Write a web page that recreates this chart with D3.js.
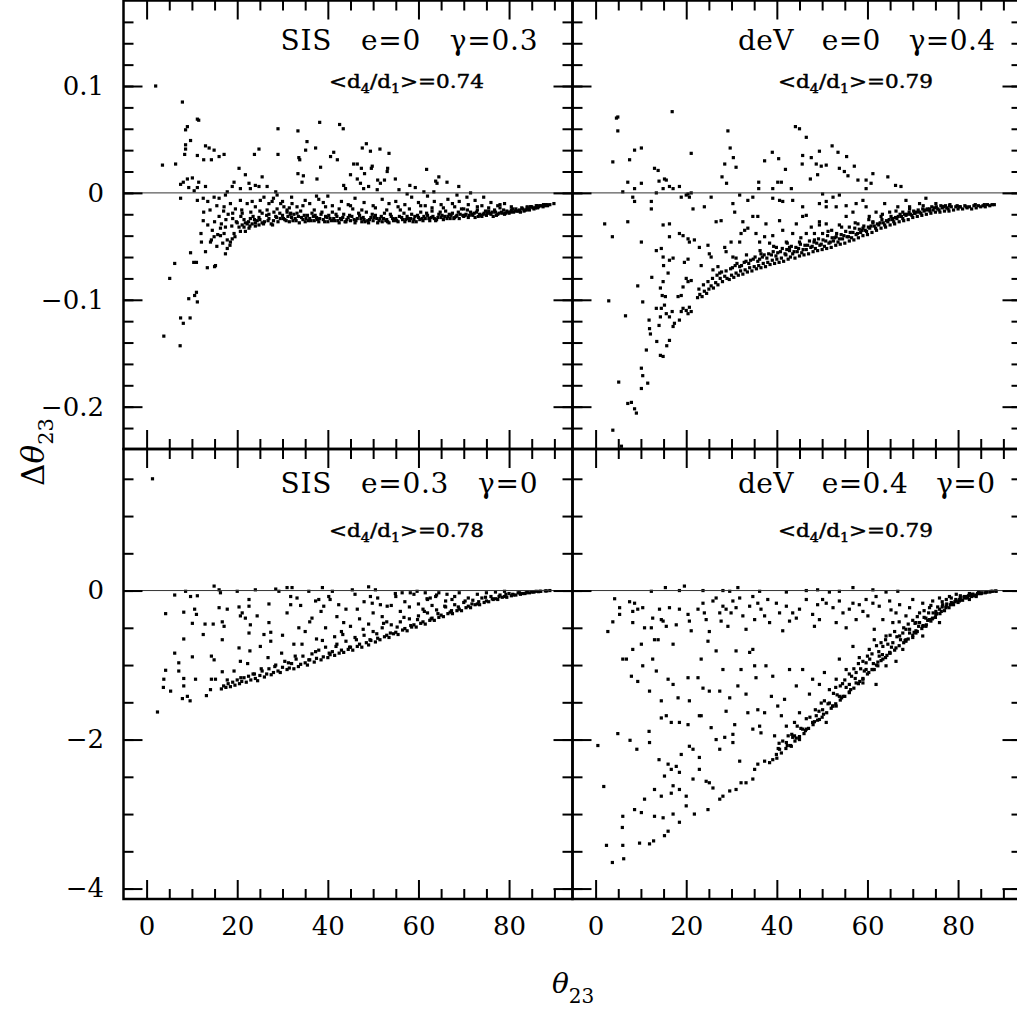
<!DOCTYPE html>
<html>
<head>
<meta charset="utf-8">
<script src="https://cdn.jsdelivr.net/npm/d3@7"></script>
<style>
body { margin: 0; background: #fff; }
</style>
</head>
<body>
<svg id="chart" width="1017" height="1010"></svg>
<script>
"use strict"

// SIS, e=0, gamma=0.3  [theta23, delta theta23]
const sisShearPoints = [
[2.0,0.100],[7.9,0.085],[8.6,0.059],[9.0,0.062],[11.2,0.069],[11.5,0.068],[9.7,0.049],[8.6,0.045],[8.6,0.041],[8.4,0.036],[3.5,0.026],[6.4,0.027],[11.2,0.035],[12.6,0.031],[14.3,0.031],[13.0,0.044],[13.8,0.042],[14.9,0.040],[16.0,0.034],[17.1,0.036],
[29.0,0.060],[33.4,0.058],[38.2,0.066],[42.6,0.064],[43.4,0.060],[29.0,0.036],[23.8,0.036],[24.8,0.041],[35.4,0.048],[35.1,0.040],[37.3,0.042],[33.6,0.033],[33.8,0.031],[38.4,0.024],[40.6,0.034],[42.1,0.031],[41.3,0.038],[33.4,0.018],[34.6,0.016],[34.3,0.010],[37.6,0.013],
[47.6,0.042],[48.5,0.046],[49.4,0.039],[51.5,0.041],[53.5,0.037],[45.7,0.027],[46.5,0.027],[47.4,0.023],[49.8,0.025],[49.6,0.023],[53.2,0.023],[53.1,0.020],[61.8,0.022],[64.5,0.015],[63.8,0.011],[66.3,0.010],[68.9,0.006],[64.1,0.009],
[45.0,0.017],[46.5,0.013],[48.1,0.018],[51.0,0.012],[52.5,0.012],[54.9,0.013],[51.6,0.009],[43.5,0.007],[43.9,0.004],[47.2,0.009],[47.9,0.004],[49.0,0.006],[50.9,0.003],[55.7,0.003],[58.1,0.007],[59.3,0.005],[57.5,-0.001],[61.2,0.001],[63.4,0.001],[71.5,0.000],[70.7,-0.004],[68.5,-0.002],[74.4,-0.004],[89.9,-0.010],[86.2,-0.012],[87.6,-0.011],[88.4,-0.011],[84.0,-0.013],[84.7,-0.013],
[7.5,-0.005],[11.2,-0.007],[8.1,0.010],[9.0,0.013],[10.1,0.014],[9.3,0.005],[11.2,0.005],[7.5,0.008],[12.6,-0.018],[12.5,-0.026],[12.1,-0.046],[14.3,-0.044],[14.1,-0.046],[14.9,-0.041],[9.7,-0.056],[10.4,-0.065],[11.0,-0.065],[6.2,-0.066],[13.4,-0.070],[15.0,-0.069],[15.2,-0.068],[5.1,-0.080],[9.3,-0.099],[10.6,-0.096],[11.0,-0.093],[11.2,-0.102],[7.5,-0.117],[8.1,-0.122],[9.6,-0.117],[3.8,-0.134],[7.4,-0.143],
[14.5,-0.035],[16.3,-0.033],[17.4,-0.032],[15.7,-0.039],[16.3,-0.040],[17.1,-0.038],[17.8,-0.044],[18.5,-0.046],[18.4,-0.049],[17.8,-0.052],[17.4,-0.057],[18.9,-0.043],[19.3,-0.038],[20.4,-0.032],[21.1,-0.030],[20.7,-0.036],[21.5,-0.032],[22.2,-0.029],[22.6,-0.033],[21.8,-0.036],[23.3,-0.029],[24.0,-0.031],[24.8,-0.030],[25.5,-0.028],[24.4,-0.026],[22.9,-0.024],
[14.9,-0.004],[16.0,-0.005],[17.4,-0.002],[17.8,0.001],[18.9,0.006],[19.3,0.010],[20.4,0.023],[20.7,0.004],[21.8,0.017],[22.6,0.009],[22.9,0.004],[24.0,0.007],[24.8,0.006],[25.5,0.015],[26.6,0.006],[28.5,0.001],[28.8,-0.002],[17.1,-0.013],[18.5,-0.010],[19.6,-0.015],[20.7,-0.007],[21.1,-0.019],[22.2,-0.010],[23.3,-0.008],[24.0,-0.013],[25.1,-0.007],[25.9,-0.004],[27.0,-0.010],[27.7,-0.008],[26.6,-0.016],[28.1,-0.018],[28.8,-0.015],[29.6,-0.010],[30.3,-0.013],[31.0,-0.016],[32.1,-0.010],[31.8,-0.019],[33.2,-0.013],
[24.0,-0.028],[25.0,-0.025],[26.0,-0.027],[27.0,-0.024],[27.5,-0.029],[28.0,-0.026],[28.5,-0.022],[29.0,-0.027],[29.5,-0.024],[26.5,-0.021],[25.5,-0.019],[23.5,-0.022],[22.5,-0.027],[21.5,-0.025],[20.0,-0.028],[19.0,-0.024],[18.0,-0.020],[17.0,-0.017],[16.0,-0.022],[15.5,-0.012],[14.0,-0.016],[13.5,-0.008],[12.5,-0.005],[13.0,0.006],[11.5,0.010],[10.5,0.002],
[15.0,-0.027],[16.5,-0.029],[17.5,-0.025],[18.8,-0.031],[19.8,-0.027],[20.8,-0.022],[21.8,-0.028],[22.8,-0.031],[23.8,-0.025],[24.8,-0.023],[25.8,-0.029],[26.8,-0.026],[27.8,-0.030],[19.0,-0.019],[21.0,-0.016],[23.0,-0.018],[25.0,-0.017],[27.0,-0.020],[15.5,-0.050],[16.8,-0.047],[19.5,-0.041],[13.0,-0.055],[12.0,-0.038],[13.5,-0.030],
[30.0,-0.021],[30.5,-0.025],[31.0,-0.018],[31.5,-0.027],[32.0,-0.023],[32.5,-0.020],[33.0,-0.026],[33.5,-0.022],[34.0,-0.017],[34.5,-0.025],[35.0,-0.027],[35.5,-0.021],[36.0,-0.024],[36.5,-0.019],[37.0,-0.026],[37.5,-0.023],[38.0,-0.027],[38.5,-0.020],[39.0,-0.025],[39.5,-0.022],[40.0,-0.027],[40.5,-0.024],[41.0,-0.018],[41.5,-0.026],[42.0,-0.022],[42.5,-0.028],[43.0,-0.025],[43.5,-0.020],[44.0,-0.027],[44.5,-0.023],[45.0,-0.026],[45.5,-0.015],[46.0,-0.028],[46.5,-0.024],[47.0,-0.021],[47.5,-0.027],[48.0,-0.025],[48.5,-0.018],[49.0,-0.028],[49.5,-0.023],[50.0,-0.026],[50.5,-0.021],[51.0,-0.028],[51.5,-0.024],[52.0,-0.027],[52.5,-0.019],[53.0,-0.025],[53.5,-0.028],[54.0,-0.022],[54.5,-0.026],[55.0,-0.024],[55.5,-0.027],[56.0,-0.016],[56.5,-0.025],[57.0,-0.027],[57.5,-0.022],[58.0,-0.026],[58.5,-0.020],[59.0,-0.025],[59.5,-0.027],[60.0,-0.023],[60.5,-0.018],[61.0,-0.026],[61.5,-0.024],[62.0,-0.021],[62.5,-0.026],[63.0,-0.014],[63.5,-0.024],[64.0,-0.025],[64.5,-0.020],[65.0,-0.023],[65.5,-0.025],[66.0,-0.017],[66.5,-0.022],[67.0,-0.024],[67.5,-0.019],[68.0,-0.023],[68.5,-0.021],[69.0,-0.024],[69.5,-0.015],[70.0,-0.022],[70.5,-0.020],[71.0,-0.023],[71.5,-0.018],[72.0,-0.021],[72.5,-0.023],[73.0,-0.016],[73.5,-0.020],[74.0,-0.022],[74.5,-0.019],[75.0,-0.021],[75.5,-0.017],[76.0,-0.020],[76.5,-0.022],[77.0,-0.018],[77.5,-0.020],[78.0,-0.014],[78.5,-0.019],[79.0,-0.020],[79.5,-0.017],[80.0,-0.019],[80.5,-0.016],[81.0,-0.018],[81.5,-0.015],[82.0,-0.017],[82.5,-0.018],[83.0,-0.015],[83.5,-0.016],[84.0,-0.014],[84.5,-0.016],[85.0,-0.013],[85.5,-0.015],[86.0,-0.012],[86.5,-0.013],[87.0,-0.012],[88.0,-0.011],[89.0,-0.011],
[30.2,-0.024],[31.2,-0.022],[32.3,-0.026],[33.2,-0.019],[34.2,-0.023],[35.2,-0.024],[36.3,-0.026],[37.2,-0.021],[38.2,-0.024],[39.3,-0.027],[40.2,-0.021],[41.3,-0.024],[42.2,-0.026],[43.3,-0.023],[44.2,-0.025],[45.3,-0.022],[46.2,-0.026],[47.3,-0.024],[48.2,-0.027],[49.2,-0.025],[50.2,-0.023],[51.3,-0.026],[52.3,-0.024],[53.2,-0.027],[54.3,-0.024],[55.2,-0.026],[56.3,-0.023],[57.2,-0.025],[58.3,-0.024],[59.2,-0.022],[60.3,-0.025],[61.2,-0.022],[62.3,-0.024],[63.2,-0.022],[64.3,-0.023],[65.2,-0.021],[66.3,-0.024],[67.2,-0.021],[68.3,-0.022],[69.2,-0.020],[70.3,-0.021],[71.2,-0.021],[72.3,-0.019],[73.2,-0.022],[74.3,-0.020],[75.2,-0.019],[76.3,-0.018],[77.2,-0.021],[78.3,-0.018],[79.2,-0.019],[80.3,-0.018],[81.3,-0.017],[82.3,-0.016],[83.3,-0.017],[84.3,-0.015],[85.3,-0.014],[86.3,-0.014],[87.5,-0.013],[88.5,-0.012],
[28.7,-0.023],[29.4,-0.019],[30.8,-0.026],[31.7,-0.020],[32.8,-0.024],[33.7,-0.028],[34.8,-0.021],[35.7,-0.026],[36.8,-0.022],[37.7,-0.025],[38.7,-0.018],[39.8,-0.023],[40.8,-0.026],[41.8,-0.020],[42.8,-0.024],[43.8,-0.027],[44.8,-0.021],[45.8,-0.025],[46.8,-0.019],[47.8,-0.023],[48.8,-0.026],[49.8,-0.020],[50.8,-0.024],[51.8,-0.022],[52.8,-0.026],[53.8,-0.020],[54.8,-0.025],[55.8,-0.022],[56.8,-0.019],[57.8,-0.024],[58.8,-0.027],[59.8,-0.021],[60.8,-0.024],[61.8,-0.019],[62.8,-0.023],[63.8,-0.026],[64.8,-0.018],[65.8,-0.022],[66.8,-0.020],[67.8,-0.024],[68.8,-0.018],[69.8,-0.021],[70.8,-0.016],[71.8,-0.020],[72.8,-0.018],[73.8,-0.021],[74.8,-0.017],[75.8,-0.019],[76.8,-0.016],[77.8,-0.019],[78.8,-0.016],[79.8,-0.018],[80.8,-0.015],[81.8,-0.017],[82.8,-0.014],[83.8,-0.016],[84.8,-0.013],[85.8,-0.014],[86.8,-0.012],[87.8,-0.012],
[31.5,-0.014],[34.5,-0.012],[37.0,-0.016],[39.5,-0.013],[42.5,-0.015],[45.0,-0.012],[47.5,-0.016],[50.5,-0.014],[53.0,-0.016],[55.5,-0.013],[58.0,-0.015],[60.5,-0.012],[63.0,-0.017],[65.5,-0.014],[68.0,-0.013],[70.0,-0.015],[73.0,-0.013],[75.5,-0.014],[78.0,-0.011],[80.5,-0.013],
[36.0,-0.010],[38.0,-0.006],[40.0,-0.003],[41.0,-0.012],[43.0,-0.008],[44.5,-0.011],[46.0,-0.005],[48.0,-0.009],[50.0,-0.012],[52.0,-0.006],[53.5,-0.010],[55.0,-0.008],[57.0,-0.011],[58.5,-0.004],[60.0,-0.009],[61.5,-0.012],[62.0,-0.003],[63.5,-0.008],[65.0,-0.011],[66.5,-0.006],[67.5,-0.010],[69.0,-0.008],[71.0,-0.011],[72.5,-0.007],[74.0,-0.012],[76.0,-0.009],[77.5,-0.012],[79.0,-0.010],
[28.0,-0.005],[30.0,-0.008],[32.0,-0.004],[35.0,-0.007],[37.5,-0.003],[39.0,-0.009]
];

// deV, e=0, gamma=0.4
const devShearPoints = [
[4.6,0.070],[4.9,0.071],[4.9,0.058],[16.9,0.076],[3.8,0.029],[8.6,0.040],[10.1,0.042],[7.5,0.031],[21.1,0.037],[29.2,0.058],[29.7,0.042],[30.4,0.033],[31.0,0.024],[28.5,0.027],[27.9,0.015],[28.9,0.009],[44.1,0.062],[45.0,0.060],[46.5,0.052],[39.0,0.038],[40.4,0.032],[37.3,0.030],[41.9,0.022],[36.0,0.010],[36.0,0.004],
[49.4,0.039],[47.6,0.033],[45.7,0.035],[45.6,0.027],[48.7,0.027],[49.8,0.025],[50.9,0.026],[47.4,0.013],[49.0,0.017],[52.2,0.044],[53.5,0.038],[55.4,0.034],[53.8,0.023],[54.9,0.020],[55.7,0.016],[57.1,0.025],[57.9,0.012],[59.7,0.004],[61.2,0.018],[64.5,0.015],[66.2,0.007],[67.4,0.006],[59.7,0.012],[60.8,0.009],
[40.2,0.010],[41.0,0.010],[43.2,0.004],[39.1,0.004],[40.6,-0.007],[41.3,-0.008],[43.5,-0.007],[34.7,-0.004],[33.6,-0.007],[31.8,-0.002],[25.5,-0.004],
[50.1,-0.001],[49.4,-0.010],[50.9,-0.008],[52.4,-0.004],[53.8,-0.002],[53.1,-0.013],[50.9,-0.013],
[6.0,0.001],[7.1,0.010],[8.6,0.004],[10.1,0.009],[8.2,-0.004],[8.6,-0.008],[12.3,-0.008],[12.3,-0.015],[13.0,0.023],[13.8,0.021],[14.0,0.011],[15.2,0.013],[15.6,0.012],[13.4,0.000],[14.9,0.004],[16.3,0.006],[17.1,0.004],[18.5,0.006],[18.9,-0.004],[20.0,-0.002],[20.4,-0.001],[21.1,0.000],[20.7,-0.004],
[2.0,-0.029],[3.7,-0.041],[7.1,-0.027],[10.1,-0.046],[12.4,-0.079],[9.3,-0.087],[10.4,-0.102],[2.9,-0.101],[6.6,-0.115],[5.1,-0.177],[7.1,-0.197],[7.9,-0.196],[8.6,-0.202],[9.0,-0.206],[11.2,-0.147],[10.1,-0.164],[10.4,-0.171],[10.1,-0.183],[11.5,-0.178],[3.8,-0.222],[5.7,-0.237],
[13.4,-0.054],[14.5,-0.052],[14.9,-0.060],[15.0,-0.068],[16.3,-0.063],[17.1,-0.061],[16.0,-0.075],[14.9,-0.083],[14.3,-0.089],[15.4,-0.097],[15.2,-0.105],[14.5,-0.108],[15.6,-0.113],[16.3,-0.116],[16.9,-0.111],[17.4,-0.122],[14.3,-0.116],[14.0,-0.124],[13.5,-0.139],[14.3,-0.152],[14.9,-0.153],[15.7,-0.143],[16.3,-0.138],[17.1,-0.125],[18.5,-0.119],[18.9,-0.111],[19.3,-0.108],[20.0,-0.110],[20.7,-0.107],[21.1,-0.111],[20.4,-0.113],[18.2,-0.097],[18.9,-0.096],[19.3,-0.088],[20.0,-0.080],[20.4,-0.083],[21.1,-0.082],[19.6,-0.065],[20.4,-0.062],[20.7,-0.046],[21.8,-0.044],[18.5,-0.038],[19.3,-0.040],[20.4,-0.043],[11.8,-0.119],[11.9,-0.127],[12.1,-0.132],[13.4,-0.108],[14.7,-0.096],[14.9,-0.030],[16.3,-0.029],[16.3,-0.041],
[22.9,-0.051],[23.3,-0.068],[24.8,-0.049],[25.1,-0.057],[25.5,-0.060],[25.9,-0.072],[27.0,-0.069],[27.4,-0.075],[28.5,-0.051],[28.8,-0.055],[29.9,-0.046],[30.3,-0.060],[31.0,-0.061],[31.8,-0.046],[32.1,-0.038],[32.9,-0.035],[33.6,-0.033],[34.7,-0.022],[35.4,-0.038],[36.2,-0.046],[36.5,-0.057],[37.3,-0.041],[37.6,-0.029],[38.4,-0.047],[39.1,-0.040],[39.9,-0.051],[40.6,-0.026],[41.3,-0.035],[42.1,-0.046],[42.8,-0.051],[43.5,-0.038],[44.3,-0.029],[45.0,-0.046],[45.7,-0.022],[46.5,-0.038],[47.6,-0.032],[48.3,-0.044],[49.4,-0.030],[50.1,-0.038],[50.9,-0.029],[52.1,-0.035],[53.1,-0.041],[53.8,-0.030],[55.3,-0.022],[56.0,-0.032],[56.8,-0.018],[57.9,-0.029],[59.0,-0.033],[59.7,-0.013],[60.4,-0.022],[61.2,-0.027],[61.9,-0.018],[63.0,-0.022],[63.8,-0.010],[64.9,-0.018],[65.6,-0.024],[66.7,-0.013],[67.8,-0.018],[68.5,-0.007],[69.3,-0.013],[70.4,-0.019],[71.5,-0.010],[72.9,-0.005],[73.7,-0.015],[75.1,-0.010],[76.6,-0.013],[78.1,-0.012],[80.3,-0.013],
[21.5,-0.015],[24.0,-0.013],[26.6,-0.027],[27.7,-0.026],[30.3,-0.010],[30.7,-0.018],[32.5,-0.027],[35.8,-0.022],[39.1,-0.005],[45.7,-0.013],[46.5,-0.021],[49.4,-0.027],[55.3,-0.012],[57.5,-0.010],[59.0,-0.007],
[22.5,-0.098],[23.0,-0.095],[23.5,-0.097],[24.0,-0.092],[24.5,-0.094],[25.0,-0.090],[25.5,-0.087],[26.0,-0.089],[26.5,-0.084],[27.0,-0.086],[27.5,-0.080],[28.0,-0.083],[28.5,-0.078],[29.0,-0.080],[29.5,-0.081],[30.0,-0.077],[30.5,-0.079],[31.0,-0.075],[31.5,-0.077],[32.0,-0.073],[32.5,-0.076],[33.0,-0.072],[33.5,-0.074],[34.0,-0.070],[34.5,-0.073],[35.0,-0.069],[35.5,-0.071],[36.0,-0.068],[36.5,-0.070],[37.0,-0.066],[37.5,-0.069],[38.0,-0.065],[38.5,-0.067],[39.0,-0.063],[39.5,-0.066],[40.0,-0.062],[40.5,-0.065],[41.0,-0.061],[41.5,-0.064],[42.0,-0.058],[42.5,-0.062],[43.0,-0.060],[43.5,-0.057],[44.0,-0.061],[44.5,-0.055],[45.0,-0.059],[45.5,-0.056],[46.0,-0.058],[46.5,-0.053],[47.0,-0.057],[47.5,-0.051],[48.0,-0.055],[48.5,-0.052],[49.0,-0.054],[49.5,-0.049],[50.0,-0.053],[50.5,-0.050],[51.0,-0.052],[51.5,-0.047],[52.0,-0.051],[52.5,-0.045],[53.0,-0.049],[53.5,-0.046],[54.0,-0.048],[54.5,-0.043],[55.0,-0.047],[55.5,-0.041],[56.0,-0.045],[56.5,-0.042],[57.0,-0.044],[57.5,-0.039],[58.0,-0.042],[58.5,-0.037],[59.0,-0.040],[59.5,-0.035],[60.0,-0.039],[60.5,-0.033],[61.0,-0.037],[61.5,-0.031],[62.0,-0.035],[62.5,-0.030],[63.0,-0.033],[63.5,-0.028],[64.0,-0.032],[64.5,-0.027],[65.0,-0.030],[65.5,-0.025],[66.0,-0.029],[66.5,-0.024],[67.0,-0.027],[67.5,-0.022],[68.0,-0.026],[68.5,-0.021],[69.0,-0.025],[69.5,-0.020],[70.0,-0.023],[70.5,-0.019],[71.0,-0.022],[71.5,-0.018],[72.0,-0.021],[72.5,-0.017],[73.0,-0.020],[73.5,-0.016],[74.0,-0.019],[74.5,-0.016],[75.0,-0.018],[75.5,-0.015],[76.0,-0.018],[76.5,-0.014],[77.0,-0.017],[77.5,-0.014],[78.0,-0.017],[78.5,-0.013],[79.0,-0.016],[79.5,-0.013],[80.0,-0.015],[80.5,-0.013],[81.0,-0.015],[81.5,-0.012],[82.0,-0.014],[82.5,-0.013],[83.0,-0.015],[83.5,-0.012],[84.0,-0.014],[84.5,-0.012],[85.0,-0.013],[85.5,-0.012],[86.0,-0.013],[86.5,-0.011],[87.0,-0.012],[88.0,-0.011],
[30.2,-0.070],[31.2,-0.066],[32.2,-0.068],[33.2,-0.064],[34.2,-0.063],[35.2,-0.060],[36.2,-0.062],[37.2,-0.058],[38.2,-0.057],[39.2,-0.055],[40.2,-0.056],[41.2,-0.052],[42.2,-0.053],[43.2,-0.050],[44.2,-0.051],[45.2,-0.048],[46.2,-0.049],[47.2,-0.045],[48.2,-0.046],[49.2,-0.043],[50.2,-0.044],[51.2,-0.040],[52.2,-0.042],[53.2,-0.038],[54.2,-0.039],[55.2,-0.036],[56.2,-0.037],[57.2,-0.033],[58.2,-0.034],[59.2,-0.031],[60.2,-0.032],[61.2,-0.028],[62.2,-0.029],[63.2,-0.025],[64.2,-0.026],[65.2,-0.022],[66.2,-0.023],[67.2,-0.020],[68.2,-0.020],[69.2,-0.018],[70.2,-0.017],[71.2,-0.016],[72.2,-0.015],[73.2,-0.015],[74.2,-0.013],[75.2,-0.013],[76.2,-0.012],[77.2,-0.012],[78.2,-0.011],
[22.8,-0.090],[23.8,-0.086],[24.8,-0.083],[25.8,-0.080],[26.8,-0.077],[27.8,-0.074],[28.8,-0.073],[29.8,-0.071],[30.8,-0.068],[31.8,-0.069],[32.8,-0.065],[33.8,-0.066],[34.8,-0.062],[35.8,-0.064],[36.8,-0.060],[37.8,-0.061],[38.8,-0.058],[39.8,-0.059],[40.8,-0.055],[41.8,-0.057],[42.8,-0.054],[43.8,-0.055],[44.8,-0.052],[45.8,-0.053],[46.8,-0.049],[47.8,-0.050],[48.8,-0.047],[49.8,-0.048],[50.8,-0.045],[51.8,-0.046],[52.8,-0.042],[53.8,-0.043],[54.8,-0.040],[55.8,-0.041],[56.8,-0.037],[57.8,-0.038],[58.8,-0.035],[59.8,-0.036],[60.8,-0.031],[61.8,-0.033],[62.8,-0.028],[63.8,-0.030],[64.8,-0.025],[65.8,-0.027],[66.8,-0.022],[67.8,-0.024],[68.8,-0.020],[69.8,-0.021],[70.8,-0.018],[71.8,-0.019],[72.8,-0.016],[73.8,-0.017],[74.8,-0.014],[75.8,-0.016],[76.8,-0.013],[77.8,-0.015],[79.8,-0.012],[81.8,-0.013],[83.8,-0.011],[85.8,-0.011],[87.5,-0.011],
[33.3,-0.058],[36.3,-0.054],[39.3,-0.050],[42.3,-0.047],[45.3,-0.042],[48.3,-0.038],[51.3,-0.036],[54.3,-0.032],[57.3,-0.028],[60.3,-0.025],[63.3,-0.020],[66.3,-0.017],[69.3,-0.015],[72.3,-0.012]
];

// SIS, e=0.3, gamma=0
const sisEllipPoints = [
[1.3,1.50],[2.4,-1.63],[3.8,-1.19],[4.2,-0.31],[4.2,-1.07],[3.7,-1.30],[5.3,-1.35],[6.2,-0.06],[6.2,-0.84],[7.1,-0.97],[7.1,-1.08],[8.2,-0.65],[8.2,-0.29],[8.2,-1.18],[8.2,-1.28],[7.9,-1.45],[9.0,-1.42],[9.6,-1.48],[8.6,-0.01],[9.7,-0.08],[11.2,-0.07],[10.1,-0.44],[10.6,-0.25],[11.0,-0.32],[10.8,-1.19],[10.1,-0.89],[12.5,-0.59],[12.9,-0.45],[13.2,-1.41],[14.3,-1.19],[14.3,-0.88],[14.7,-0.45],[14.9,0.06],[14.1,-1.33],[15.2,-1.19],[14.9,-0.93],[16.0,0.01],[16.3,-0.03],[16.0,-0.23],[16.7,-0.42],[17.1,-0.48],[16.7,-0.66],[16.7,-1.09],[17.8,-0.25],[20.4,-0.22],[20.7,-0.34],[21.1,-0.30],[20.4,-0.77],[20.7,-0.95],[20.0,-0.01],[22.6,-0.12],[22.6,-0.21],[21.8,-0.37],[22.9,-0.46],[22.6,-0.57],[22.8,-0.81],[24.0,0.01],[24.4,-0.34],[25.1,-0.75],[25.9,-0.59],[27.0,-0.43],[27.0,-0.18],[27.4,-0.56],[27.4,-0.68],[28.5,0.02],[29.2,-0.01],[31.0,0.04],[32.1,0.04],[31.8,-0.08],[31.8,-0.19],[33.2,-0.10],[33.6,-0.50],[35.8,-0.01],[36.5,-0.37],[37.3,-0.14],[38.0,-0.12],[38.8,0.04],[39.1,-0.21],[40.2,-0.08],[41.0,-0.01],[42.4,-0.19],[43.5,-0.43],[45.4,0.01],[46.5,-0.25],[49.0,0.05],[49.4,-0.08],[49.8,-0.17],[50.5,0.01],[51.6,-0.19],[53.1,-0.21],[54.9,-0.04],[56.4,-0.03],[58.2,-0.03],[59.7,-0.01],[61.5,-0.03],[61.9,-0.11],[62.6,-0.10],[63.8,-0.08],[64.5,-0.03],[66.3,-0.05],[67.4,-0.12],
[16.5,-1.32],[17.0,-1.28],[17.5,-1.30],[18.0,-1.25],[18.5,-1.29],[19.0,-1.23],[19.5,-1.27],[20.0,-1.20],[20.5,-1.25],[21.0,-1.22],[21.5,-1.17],[22.0,-1.23],[22.5,-1.15],[23.0,-1.20],[23.5,-1.12],[24.0,-1.18],[24.5,-1.21],[25.0,-1.14],[25.5,-1.08],[26.0,-1.16],[26.5,-1.12],[27.0,-1.05],[27.5,-1.13],[28.0,-1.10],[28.5,-1.00],[29.0,-1.08],[29.5,-1.10],[30.0,-1.03],[30.5,-0.95],[31.0,-1.06],[31.5,-1.04],[32.0,-0.98],[32.5,-1.05],[33.0,-0.92],[33.5,-1.02],[34.0,-0.99],[34.5,-0.88],[35.0,-0.97],[35.5,-1.00],[36.0,-0.93],[36.5,-0.85],[37.0,-0.96],[37.5,-0.91],[38.0,-0.80],[38.5,-0.93],[39.0,-0.89],[39.5,-0.76],[40.0,-0.90],[40.5,-0.86],[41.0,-0.82],[41.5,-0.87],[42.0,-0.72],[42.5,-0.84],[43.0,-0.80],[43.5,-0.83],[44.0,-0.68],[44.5,-0.79],[45.0,-0.76],[45.5,-0.80],[46.0,-0.63],[46.5,-0.75],[47.0,-0.72],[47.5,-0.76],[48.0,-0.60],[48.5,-0.70],[49.0,-0.73],[49.5,-0.67],[50.0,-0.55],[50.5,-0.69],[51.0,-0.64],[51.5,-0.66],[52.0,-0.50],[52.5,-0.62],[53.0,-0.60],[53.5,-0.63],[54.0,-0.46],[54.5,-0.58],[55.0,-0.56],[55.5,-0.59],[56.0,-0.42],[56.5,-0.53],[57.0,-0.51],[57.5,-0.54],[58.0,-0.38],[58.5,-0.49],[59.0,-0.46],[59.5,-0.49],[60.0,-0.34],[60.5,-0.44],[61.0,-0.42],[61.5,-0.45],[62.0,-0.30],[62.5,-0.40],[63.0,-0.37],[63.5,-0.40],[64.0,-0.26],[64.5,-0.36],[65.0,-0.33],[65.5,-0.35],[66.0,-0.22],[66.5,-0.31],[67.0,-0.29],[67.5,-0.31],[68.0,-0.19],[68.5,-0.27],[69.0,-0.25],[69.5,-0.27],[70.0,-0.16],[70.5,-0.23],[71.0,-0.21],[71.5,-0.23],[72.0,-0.13],[72.5,-0.19],[73.0,-0.18],[73.5,-0.19],[74.0,-0.10],[74.5,-0.16],[75.0,-0.14],[75.5,-0.15],[76.0,-0.08],[76.5,-0.12],[77.0,-0.11],[77.5,-0.12],[78.0,-0.06],[78.5,-0.09],[79.0,-0.08],[79.5,-0.09],[80.0,-0.04],[80.5,-0.07],[81.0,-0.06],[81.5,-0.06],[82.0,-0.03],[82.5,-0.05],[83.0,-0.04],[83.5,-0.04],[84.0,-0.02],[84.5,-0.03],[85.0,-0.02],[85.5,-0.02],[86.0,-0.01],[86.5,-0.015],[87.0,-0.01],[88.0,-0.005],[89.0,0.00],
[17.8,-1.20],[19.3,-1.08],[20.8,-1.17],[22.3,-0.98],[23.8,-1.12],[25.3,-1.05],[26.8,-0.90],[28.3,-1.02],[29.8,-0.84],[31.3,-0.97],[32.8,-0.88],[34.3,-0.72],[35.8,-0.93],[37.3,-0.82],[38.8,-0.67],[40.3,-0.84],[41.8,-0.75],[43.3,-0.59],[44.8,-0.76],[46.3,-0.66],[47.8,-0.52],[49.3,-0.66],[50.8,-0.58],[52.3,-0.44],[53.8,-0.57],[55.3,-0.49],[56.8,-0.36],[58.3,-0.47],[59.8,-0.39],[61.3,-0.28],[62.8,-0.38],[64.3,-0.31],[65.8,-0.21],[67.3,-0.27],[68.8,-0.22],[70.3,-0.14],[71.8,-0.18],[73.3,-0.15],[74.8,-0.09],[76.3,-0.11],[77.8,-0.08],[79.3,-0.05],[80.8,-0.05],[82.3,-0.03],[83.8,-0.03],[85.3,-0.015],[86.8,-0.01],[88.3,-0.005],
[30.0,-0.60],[31.0,-0.30],[32.5,-0.72],[34.0,-0.20],[35.0,-0.55],[36.0,-0.42],[37.5,-0.65],[38.5,-0.28],[39.5,-0.50],[40.5,-0.12],[41.5,-0.62],[42.0,-0.35],[43.0,-0.55],[44.0,-0.25],[45.0,-0.48],[46.0,-0.05],[47.0,-0.38],[48.0,-0.15],[49.0,-0.45],[50.0,-0.30],[51.0,-0.10],[52.0,-0.35],[53.0,-0.42],[54.0,-0.20],[55.0,-0.08],[56.0,-0.28],[57.0,-0.15],[58.0,-0.22],[59.0,-0.05],[60.0,-0.18],[61.0,-0.25],[62.0,-0.12],[63.0,-0.20],[64.0,-0.06],[66.0,-0.14],[68.0,-0.08],[69.0,-0.03],[71.0,-0.10],[73.0,-0.05],[75.0,-0.03],[77.0,-0.02],[79.0,-0.01]
];

// deV, e=0.4, gamma=0
const devEllipPoints = [
[12.3,-0.01],[15.4,0.04],[18.5,0.00],[19.6,0.06],[23.7,0.00],[28.1,0.00],[29.6,-0.01],[31.4,0.04],[36.2,-0.01],[42.1,-0.02],[46.5,0.00],[49.0,0.01],[51.6,-0.02],[53.8,-0.01],[56.8,0.04],[61.2,0.01],[64.1,-0.02],[66.7,-0.01],
[4.2,-0.11],[2.7,-0.55],[3.8,-0.42],[5.3,-0.32],[5.3,-0.23],[7.5,-0.15],[8.6,-0.17],[8.2,-0.28],[9.3,-0.25],[10.4,-0.23],[8.2,-0.43],[10.8,-0.50],[12.3,-0.50],[12.6,-0.37],[13.0,-0.66],[14.1,-0.25],[14.5,-0.39],[14.9,-0.41],[15.6,-0.48],[16.3,-0.23],[17.1,-0.72],[17.8,-0.46],[18.5,-0.25],[20.4,-0.32],[20.7,-0.41],[21.1,-0.54],[22.6,-0.25],[23.7,-0.17],[24.0,-0.30],[24.4,-0.39],[24.8,-0.68],[25.1,-0.55],[25.9,-0.14],[26.6,-0.10],[27.4,-0.30],[27.7,-0.41],[28.1,-0.21],[28.8,-0.25],[29.2,-0.48],[29.9,-0.30],[30.3,-0.14],[31.0,-0.23],[31.8,-0.10],[32.5,-0.34],[33.2,-0.52],[34.0,-0.21],[34.7,-0.08],[35.1,-0.39],[35.8,-0.17],[36.5,-0.25],[37.3,-0.34],[38.0,-0.12],[38.4,-0.43],[39.9,-0.17],[40.6,-0.30],[41.3,-0.54],[42.1,-0.21],[42.8,-0.41],[43.5,-0.30],[44.3,-0.37],[45.0,-0.25],[46.5,-0.12],[47.9,-0.32],[48.3,-0.48],[49.0,-0.19],[49.4,-0.39],[50.1,-0.12],[50.9,-0.17],[52.4,-0.23],[53.1,-0.43],[53.8,-0.14],[54.6,-0.30],[55.3,-0.50],[56.0,-0.25],[56.8,-0.17],[57.5,-0.39],[58.2,-0.19],[59.0,-0.28],[59.7,-0.12],[60.1,-0.34],[61.2,-0.17],[61.5,-0.52],[61.9,-0.08],[62.6,-0.21],[63.4,-0.39],[64.1,-0.61],[64.9,-0.14],[65.2,-0.26],[65.6,-0.43],[66.3,-0.30],[67.1,-0.19],[67.8,-0.57],[68.5,-0.34],[69.3,-0.23],[70.0,-0.12],[70.7,-0.43],[71.5,-0.30],[72.2,-0.17],[72.9,-0.37],[73.7,-0.23],[74.4,-0.14],[75.1,-0.28],[75.9,-0.10],[76.6,-0.19],[77.4,-0.12],[78.1,-0.08],[78.8,-0.17],[79.6,-0.05],[80.3,-0.14],[81.4,-0.08],[82.5,-0.12],[83.2,-0.05],[84.0,-0.08],[85.1,-0.04],[86.2,-0.02],[87.6,-0.01],
[6.0,-0.92],[6.8,-0.92],[7.9,-1.15],[9.3,-1.22],[8.2,-0.79],[10.1,-0.72],[10.4,-1.01],[11.9,-1.35],[12.6,-0.92],[13.8,-0.66],[13.4,-1.08],[14.5,-1.71],[14.5,-1.48],[15.6,-1.68],[16.7,-1.77],[16.0,-1.19],[17.1,-1.26],[18.2,-1.44],[18.5,-1.77],[20.4,-1.17],[20.4,-1.80],[20.7,-1.48],[22.6,-1.17],[22.9,-1.68],[23.3,-0.92],[23.7,-1.31],[25.1,-1.35],[25.5,-1.84],[26.6,-0.81],[27.4,-1.35],[28.1,-1.06],[28.8,-1.62],[29.6,-1.44],[30.3,-1.93],[30.7,-1.80],[31.0,-0.81],[31.4,-1.28],[32.1,-1.06],[33.2,-1.39],[33.6,-1.64],[34.0,-0.83],[34.7,-0.79],[35.1,-1.01],[35.4,-1.17],[35.8,-1.60],[36.5,-1.91],[36.2,-1.82],[37.3,-1.64],[37.6,-1.01],[38.8,-1.42],[39.1,-1.15],[39.5,-1.95],[40.2,-1.55],[41.0,-1.68],[41.7,-1.46],[42.1,-1.82],[42.8,-1.06],[43.5,-1.97],[43.9,-1.77],[44.3,-1.28],[45.0,-1.64],[45.7,-1.06],[46.5,-1.86],[47.2,-1.39],[47.9,-1.19],[48.7,-1.68],[49.4,-1.26],[49.8,-1.51],[50.5,-1.10],[50.9,-1.77],[51.6,-1.33],[52.4,-1.55],[53.1,-1.19],[53.8,-0.92],[54.6,-1.42],[55.3,-1.06],[56.0,-1.26],[56.8,-0.75],[57.5,-1.10],[58.2,-0.90],[59.0,-1.24],[59.7,-0.97],[60.4,-0.79],[61.2,-1.06],[61.5,-0.66],[61.9,-1.26],[62.6,-0.88],[63.4,-0.75],[64.1,-1.01],[64.9,-0.83],[65.6,-0.70],[66.3,-0.95],[67.1,-0.61],[67.8,-0.79],[68.5,-0.68],[69.3,-0.52],[70.0,-0.63],[70.7,-0.54],[71.5,-0.43],[72.2,-0.61],[72.9,-0.48],[73.7,-0.39],[74.4,-0.37],[75.1,-0.32],[75.9,-0.43],
[0.5,-2.08],[4.9,-1.92],[7.6,-2.01],[9.1,-2.13],[11.8,-1.89],[11.9,-2.04],[14.0,-2.27],[16.0,-2.33],[16.7,-2.40],[18.5,-2.44],[1.8,-2.63],[13.0,-2.67],[14.5,-2.76],[16.7,-2.72],[10.8,-2.80],[8.6,-2.94],[10.1,-2.98],[13.0,-3.03],[14.9,-3.05],[17.1,-3.00],[18.5,-3.11],[20.0,-2.89],[21.8,-3.00],[24.8,-2.94],[5.9,-3.18],[6.0,-3.03],[2.4,-3.42],[6.0,-3.42],[9.7,-3.39],[11.9,-3.40],[12.8,-3.36],[15.2,-3.29],[16.0,-3.23],[3.7,-3.65],[6.2,-3.60],[20.7,-2.09],[22.9,-2.24],[23.3,-1.68],[21.5,-2.53],[24.4,-2.56],[25.9,-2.65],[27.4,-2.80],[28.1,-2.76],[29.6,-2.69],[31.0,-2.67],[32.1,-2.58],[33.2,-2.58],[34.7,-2.53],[35.1,-2.40],[35.8,-2.33],[37.3,-2.29],[38.4,-2.31],[39.1,-2.27],[39.9,-2.20],[40.6,-2.13],[42.1,-2.04],[43.2,-2.09],[43.9,-1.95],[45.0,-2.00],[45.7,-1.86],[47.9,-1.77],[49.4,-1.73],[50.1,-1.60],[51.6,-1.51],[53.1,-1.55],[53.8,-1.42],[56.0,-1.37],[57.5,-1.24],[59.0,-1.19],[59.7,-1.06],[61.5,-1.06],[62.3,-1.01],[63.4,-0.92],[64.9,-0.84],[68.5,-0.66],[70.7,-0.57],[72.2,-0.48],[73.7,-0.39],[75.9,-0.25],[77.4,-0.21],[79.6,-0.14],[82.1,-0.08],[84.7,-0.03],[88.4,-0.01],
[26.6,-2.00],[27.4,-2.13],[28.5,-1.97],[30.3,-2.04],[31.8,-2.29],[34.7,-1.86],[21.5,-2.13],[22.9,-2.40],[25.1,-2.58],[18.5,-2.67],[20.0,-2.76],[17.1,-2.62],[15.2,-2.49],[17.8,-2.36],[18.9,-2.20],
[40.0,-2.25],[41.0,-2.18],[42.0,-2.12],[43.0,-2.08],[44.0,-2.02],[45.0,-1.96],[46.0,-1.92],[47.0,-1.85],[48.0,-1.80],[49.0,-1.74],[50.0,-1.70],[51.0,-1.64],[52.0,-1.58],[53.0,-1.52],[54.0,-1.47],[55.0,-1.42],[56.0,-1.36],[57.0,-1.31],[58.0,-1.25],[59.0,-1.18],[60.0,-1.12],[61.0,-1.06],[62.0,-1.00],[63.0,-0.94],[64.0,-0.90],[65.0,-0.84],[66.0,-0.80],[67.0,-0.74],[68.0,-0.70],[69.0,-0.65],[70.0,-0.60],[71.0,-0.55],[72.0,-0.51],[73.0,-0.46],[74.0,-0.41],[75.0,-0.36],[76.0,-0.31],[77.0,-0.27],[78.0,-0.23],[79.0,-0.19],[80.0,-0.16],[81.0,-0.13],[82.0,-0.10],[83.0,-0.08],[84.0,-0.06],[85.0,-0.04],[86.0,-0.03],[87.0,-0.02],
[40.5,-2.05],[42.5,-1.95],[44.5,-1.82],[46.5,-1.72],[48.5,-1.60],[50.5,-1.48],[52.5,-1.38],[54.5,-1.25],[56.5,-1.15],[58.5,-1.05],[60.5,-0.92],[62.5,-0.82],[64.5,-0.72],[66.5,-0.62],[68.5,-0.52],[70.5,-0.44],[72.5,-0.36],[74.5,-0.30],[76.5,-0.22],[78.5,-0.16],[80.5,-0.10],[82.5,-0.06],[84.5,-0.04],
[40.3,-2.12],[41.3,-2.02],[42.3,-2.08],[43.3,-1.93],[44.3,-1.98],[45.3,-1.85],[46.3,-1.88],[47.3,-1.70],[48.3,-1.76],[49.3,-1.62],[50.3,-1.66],[51.3,-1.52],[52.3,-1.55],[53.3,-1.40],[54.3,-1.44],[55.3,-1.30],[56.3,-1.33],[57.3,-1.18],[58.3,-1.22],[59.3,-1.08],[60.3,-1.10],[61.3,-0.98],[62.3,-0.96],[63.3,-0.86],[64.3,-0.87],[65.3,-0.76],[66.3,-0.77],[67.3,-0.66],[68.3,-0.67],[69.3,-0.57],[70.3,-0.56],[71.3,-0.48],[72.3,-0.47],[73.3,-0.40],[74.3,-0.38],[75.3,-0.31],[76.3,-0.28],[77.3,-0.23],[78.3,-0.19],[79.3,-0.15],[80.3,-0.12],[81.3,-0.09],[82.3,-0.07],[83.3,-0.05],[84.3,-0.04],[85.3,-0.03],[86.3,-0.02],[87.3,-0.01],[88.3,-0.005],
[74.0,-0.20],[75.5,-0.22],[76.5,-0.15],[77.5,-0.18],[78.5,-0.10],[79.5,-0.12],[80.5,-0.07],[81.5,-0.10],[82.5,-0.04],[83.5,-0.07],[84.5,-0.02],[72.5,-0.27],[73.5,-0.30],[71.0,-0.35],[70.0,-0.40],[69.0,-0.45],[68.0,-0.50],[67.0,-0.42],[66.0,-0.55],[65.0,-0.60],[64.0,-0.66],[63.0,-0.70],[62.0,-0.74],[61.0,-0.85],[60.0,-0.88],[59.0,-0.95],[58.0,-0.98],[57.0,-1.05],[56.0,-1.12],[55.0,-1.20],[54.0,-1.28],[53.0,-1.30]
];

const panelModels = ["SIS", "deV", "SIS", "deV"];
const panelEllipticity = ["e=0", "e=0", "e=0.3", "e=0.4"];
const panelShear = ["γ=0.3", "γ=0.4", "γ=0", "γ=0"];
const panelRatios = ["0.74", "0.79", "0.78", "0.79"];

const xMajorTicks = [0, 20, 40, 60, 80];
const xMinorTicks = [5, 10, 15, 25, 30, 35, 45, 50, 55, 65, 70, 75, 85, 90];
const topMajorTicks = [0.1, 0, -0.1, -0.2];
const bottomMajorTicks = [0, -2, -4];

const xDomain = [-5.1, 94];
const topDomain = [-0.2396, 0.18];
const bottomDomain = [-4.14, 1.9];

const panelWidth = 449;
const colLeft = [123.5, 572.5];
const rowTop = [0.5, 449];
const rowBottom = [449, 899];
const majorLength = 19;
const minorLength = 10;
const pointSize = 3.2;
const serif = "'DejaVu Serif', serif";

const svg = d3.select("#chart");

function MinorTicks(domain, step)
{
    const start = Math.ceil(domain[0] / step) * step;
    return d3.range(start, domain[1], step).map(v => +v.toFixed(4));
}

function StyleAxis(g)
{
    g.select(".domain").remove();
    g.selectAll("line").attr("stroke", "#000").attr("stroke-width", 2);
    g.attr("font-family", serif).attr("font-size", 26);
    g.selectAll("text").attr("fill", "#000");
}

function DrawPanel(points, col, row, index)
{
    const left = colLeft[col];
    const right = left + panelWidth;
    const top = rowTop[row];
    const bottom = rowBottom[row];

    const x = d3.scaleLinear().domain(xDomain).range([left, right]);
    const y = d3.scaleLinear()
        .domain(row == 0 ? topDomain : bottomDomain)
        .range([bottom, top]);

    const yMajor = row == 0 ? topMajorTicks : bottomMajorTicks;
    const yMinor = row == 0 ? MinorTicks(y.domain(), 0.02) : MinorTicks(y.domain(), 0.5);
    const yFormat = d => d == 0 ? "0" : (row == 0 ? d3.format(".1f")(d) : d3.format("d")(d));

    const g = svg.append("g");

    g.append("g")
        .selectAll("rect")
        .data(points)
        .enter()
        .append("rect")
            .attr("x", d => x(d[0]) - pointSize / 2)
            .attr("y", d => y(d[1]) - pointSize / 2)
            .attr("width", pointSize)
            .attr("height", pointSize)
            .attr("fill", "#000");

    g.append("line")
        .attr("x1", left).attr("x2", right)
        .attr("y1", y(0)).attr("y2", y(0))
        .attr("stroke", "#333")
        .attr("stroke-width", 1);

    // bottom
    g.append("g").attr("transform", `translate(0,${bottom})`)
        .call(d3.axisBottom(x).tickValues(xMinorTicks).tickSize(-minorLength).tickFormat(""))
        .call(StyleAxis);
    g.append("g").attr("transform", `translate(0,${bottom})`)
        .call(d3.axisBottom(x).tickValues(xMajorTicks).tickSize(-majorLength).tickPadding(18)
            .tickFormat(row == 1 ? d3.format("d") : ""))
        .call(StyleAxis);

    // top
    g.append("g").attr("transform", `translate(0,${top})`)
        .call(d3.axisTop(x).tickValues(xMinorTicks).tickSize(-minorLength).tickFormat(""))
        .call(StyleAxis);
    g.append("g").attr("transform", `translate(0,${top})`)
        .call(d3.axisTop(x).tickValues(xMajorTicks).tickSize(-majorLength).tickFormat(""))
        .call(StyleAxis);

    // left
    g.append("g").attr("transform", `translate(${left},0)`)
        .call(d3.axisLeft(y).tickValues(yMinor).tickSize(-minorLength).tickFormat(""))
        .call(StyleAxis);
    g.append("g").attr("transform", `translate(${left},0)`)
        .call(d3.axisLeft(y).tickValues(yMajor).tickSize(-majorLength).tickPadding(19.5)
            .tickFormat(col == 0 ? yFormat : ""))
        .call(StyleAxis);

    // right
    g.append("g").attr("transform", `translate(${right},0)`)
        .call(d3.axisRight(y).tickValues(yMinor).tickSize(-minorLength).tickFormat(""))
        .call(StyleAxis);
    g.append("g").attr("transform", `translate(${right},0)`)
        .call(d3.axisRight(y).tickValues(yMajor).tickSize(-majorLength).tickFormat(""))
        .call(StyleAxis);

    g.append("rect")
        .attr("x", left).attr("y", top)
        .attr("width", panelWidth).attr("height", bottom - top)
        .attr("fill", "none")
        .attr("stroke", "#000")
        .attr("stroke-width", 2.5);

    const titleRight = left + (col == 0 ? 414 : 422.5);
    const titleBase = top + (row == 0 ? 49.5 : 44);
    g.append("text")
        .attr("x", titleRight)
        .attr("y", titleBase)
        .attr("text-anchor", "end")
        .attr("font-family", serif)
        .attr("font-size", 28)
        .attr("textLength", 257)
        .attr("lengthAdjust", "spacing")
        .attr("xml:space", "preserve")
        .text(`${panelModels[index]}   ${panelEllipticity[index]}   ${panelShear[index]}`);

    const ratio = g.append("text")
        .attr("x", left + 283)
        .attr("y", top + (row == 0 ? 87.5 : 88))
        .attr("text-anchor", "middle")
        .attr("font-family", serif)
        .attr("font-size", 18)
        .attr("stroke", "#000")
        .attr("stroke-width", 0.45)
        .attr("textLength", 155)
        .attr("lengthAdjust", "spacingAndGlyphs");
    ratio.append("tspan").text("<d");
    ratio.append("tspan").attr("font-size", 12).attr("dy", 5).text("4");
    ratio.append("tspan").attr("dy", -5).text("/d");
    ratio.append("tspan").attr("font-size", 12).attr("dy", 5).text("1");
    ratio.append("tspan").attr("dy", -5).text(">=" + panelRatios[index]);
}

DrawPanel(sisShearPoints, 0, 0, 0);
DrawPanel(devShearPoints, 1, 0, 1);
DrawPanel(sisEllipPoints, 0, 1, 2);
DrawPanel(devEllipPoints, 1, 1, 3);

// axis titles
const xTitle = svg.append("text")
    .attr("x", 552)
    .attr("y", 993)
    .attr("font-family", serif)
    .attr("font-size", 28);
xTitle.append("tspan").attr("font-style", "italic").text("θ");
xTitle.append("tspan").attr("font-size", 20).attr("dy", 10).text("23");

const yTitle = svg.append("text")
    .attr("transform", "translate(44,452) rotate(-90)")
    .attr("text-anchor", "middle")
    .attr("font-family", serif)
    .attr("font-size", 31);
yTitle.append("tspan").text("Δ");
yTitle.append("tspan").attr("font-style", "italic").text("θ");
yTitle.append("tspan").attr("font-size", 21).attr("dy", 9).text("23");
</script>
</body>
</html>
